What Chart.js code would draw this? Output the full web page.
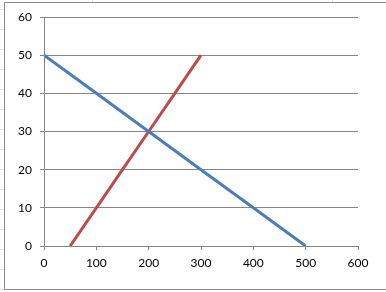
<!DOCTYPE html>
<html><head><meta charset="utf-8">
<script src="https://cdn.jsdelivr.net/npm/chart.js@4/dist/chart.umd.min.js"></script>
<style>html,body{margin:0;padding:0;background:#fff;}#wrap{position:absolute;left:0;top:0;width:386px;height:292px;}</style>
</head><body><div id="wrap"><canvas id="c" width="386" height="292"></canvas></div>
<script>
const blueX = [0, 100, 200, 300, 400, 500];
const blueY = [50, 40, 30, 20, 10, 0];
const redX = [50, 100, 150, 200, 250, 300];
const redY = [0, 10, 20, 30, 40, 50];
const yMax = 60, xMax = 600;

const frame = {
  id: 'frame',
  beforeDraw(chart) {
    const ctx = chart.ctx;
    ctx.save();
    ctx.strokeStyle = '#e2e2e2';
    ctx.lineWidth = 1;
    for (let y = 9.5; y < 292; y += 20) { ctx.beginPath(); ctx.moveTo(0, y); ctx.lineTo(4, y); ctx.stroke(); }
    ctx.beginPath(); ctx.moveTo(92.5, 0); ctx.lineTo(92.5, 2); ctx.moveTo(332.5, 0); ctx.lineTo(332.5, 2); ctx.stroke();
    ctx.strokeStyle = '#8c8c8c';
    ctx.strokeRect(4.5, 2.5, 400, 287);
    ctx.restore();
  }
};

const pts = (xs, ys) => xs.map((x, i) => ({ x, y: ys[i] }));
new Chart(document.getElementById('c'), {
  type: 'line',
  data: { datasets: [
    { data: pts(blueX, blueY), borderColor: '#4a7ebb', borderWidth: 3, pointRadius: 0, tension: 0 },
    { data: pts(redX, redY), borderColor: '#be4b48', borderWidth: 3, pointRadius: 0, tension: 0 }
  ]},
  options: {
    responsive: false, animation: false,
    layout: { padding: { left: 0, right: 28, top: 17, bottom: 0 } },
    plugins: { legend: { display: false }, tooltip: { enabled: false } },
    scales: {
      x: { type: 'linear', min: 0, max: xMax,
        afterFit(s) { s.height = 46; },
        ticks: { stepSize: 100, color: '#000', padding: 6, font: { family: 'Lato', size: 12 }, maxRotation: 0 },
        grid: { drawOnChartArea: false, drawTicks: true, tickLength: 4, color: '#868686' },
        border: { color: '#868686' } },
      y: { min: 0, max: yMax,
        afterFit(s) { s.width = 44; },
        ticks: { stepSize: 10, color: '#000', padding: 8, font: { family: 'Lato', size: 12 } },
        grid: { drawTicks: true, tickLength: 4, color: '#868686' },
        border: { color: '#868686' } }
    }
  },
  plugins: [frame]
});
</script></body></html>
